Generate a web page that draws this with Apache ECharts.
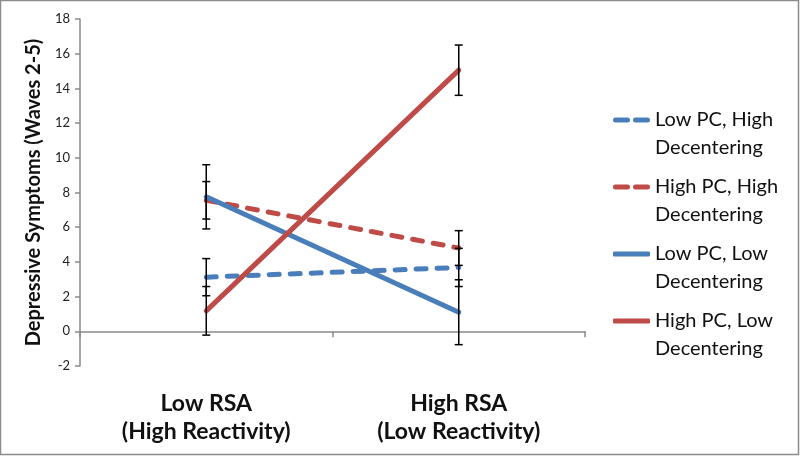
<!DOCTYPE html>
<html>
<head>
<meta charset="utf-8">
<script src="https://cdn.jsdelivr.net/npm/echarts@6/dist/echarts.min.js"></script>
<style>
  html, body { margin: 0; padding: 0; background: #fff; }
  #chart { width: 800px; height: 456px; }
</style>
</head>
<body>
<div id="chart"></div>
<script>
// categories on the x axis
const categories = ['Low RSA\n(High Reactivity)', 'High RSA\n(Low Reactivity)']

// y axis range
const yMin = -2
const yMax = 18
const yStep = 2

// series names
const seriesNames = [
  'Low PC, High\nDecentering',
  'High PC, High\nDecentering',
  'Low PC, Low\nDecentering',
  'High PC, Low\nDecentering'
]

// means per category
const lowPcHighDec = [3.12, 3.68]
const highPcHighDec = [7.55, 4.8]
const lowPcLowDec = [7.75, 1.1]
const highPcLowDec = [1.18, 15.05]

// error bar half-widths per category
const lowPcHighDecErr = [1.07, 1.1]
const highPcHighDecErr = [1.08, 1.0]
const lowPcLowDecErr = [1.85, 1.87]
const highPcLowDecErr = [1.4, 1.45]

const blue = '#4a7ebb'
const red = '#be4b48'
const font = 'Lato, "Open Sans", sans-serif'

// legend icons: two dashes or one solid bar
const dashIcon = 'path://M2.5,0h12a2.5,2.5 0 0 1 0,5h-12a2.5,2.5 0 0 1 0,-5z M22.5,0h12a2.5,2.5 0 0 1 0,5h-12a2.5,2.5 0 0 1 0,-5z'
const solidIcon = 'roundRect'

const lineSeries = (name, data, color, dashed) => ({
  name,
  type: 'line',
  data,
  symbol: 'none',
  z: 3,
  lineStyle: {
    color,
    width: 5,
    cap: 'round',
    type: dashed ? [10, 11] : 'solid'
  },
  itemStyle: { color }
})

// error bar rows: [category index, mean, err]
const errRows = []
const pushErr = (vals, errs) => {
  vals.forEach((v, i) => errRows.push([i, v, errs[i]]))
}
pushErr(lowPcHighDec, lowPcHighDecErr)
pushErr(highPcHighDec, highPcHighDecErr)
pushErr(lowPcLowDec, lowPcLowDecErr)
pushErr(highPcLowDec, highPcLowDecErr)

const renderErr = (params, api) => {
  const i = api.value(0)
  const v = api.value(1)
  const e = api.value(2)
  const hi = api.coord([i, v + e])
  const lo = api.coord([i, v - e])
  const half = 4
  const style = { stroke: '#000', lineWidth: 1.5 }
  return {
    type: 'group',
    children: [
      { type: 'line', shape: { x1: hi[0], y1: hi[1], x2: lo[0], y2: lo[1] }, style },
      { type: 'line', shape: { x1: hi[0] - half, y1: hi[1], x2: hi[0] + half, y2: hi[1] }, style },
      { type: 'line', shape: { x1: lo[0] - half, y1: lo[1], x2: lo[0] + half, y2: lo[1] }, style }
    ]
  }
}

const chart = echarts.init(document.getElementById('chart'))

chart.setOption({
  animation: false,
  backgroundColor: '#fff',
  graphic: [
    {
      type: 'rect',
      shape: { x: 0.5, y: 0.5, width: 798, height: 454 },
      style: { fill: 'none', stroke: '#8c8c8c', lineWidth: 1.5 },
      z: 100
    }
  ],
  grid: {
    left: 80,
    right: 215,
    top: 19,
    bottom: 90,
    containLabel: false,
    outerBoundsMode: 'none'
  },
  legend: {
    orient: 'vertical',
    left: 608,
    top: 73,
    itemWidth: 37,
    itemHeight: 5,
    itemGap: -17,
    data: [
      { name: seriesNames[0], icon: dashIcon },
      { name: seriesNames[1], icon: dashIcon },
      { name: seriesNames[2], icon: solidIcon },
      { name: seriesNames[3], icon: solidIcon }
    ],
    formatter: (name) => '\n' + name,
    textStyle: {
      fontFamily: font,
      fontSize: 20,
      lineHeight: 28,
      color: '#111'
    }
  },
  xAxis: {
    type: 'category',
    data: categories,
    axisLine: {
      onZero: true,
      lineStyle: { color: '#8a8a8a', width: 1.5 }
    },
    axisTick: {
      show: true,
      length: 6,
      lineStyle: { color: '#8a8a8a', width: 1.5 }
    },
    axisLabel: {
      margin: 24,
      fontFamily: font,
      fontSize: 23,
      fontWeight: 'bold',
      lineHeight: 28,
      color: '#111'
    },
    splitLine: { show: false }
  },
  yAxis: {
    type: 'value',
    min: yMin,
    max: yMax,
    interval: yStep,
    name: 'Depressive Symptoms (Waves 2-5)',
    nameLocation: 'middle',
    nameGap: 28,
    nameTextStyle: {
      fontFamily: font,
      fontSize: 20,
      fontWeight: 'bold',
      color: '#111'
    },
    axisLine: {
      show: true,
      lineStyle: { color: '#8a8a8a', width: 1.5 }
    },
    axisTick: {
      show: true,
      length: 5,
      lineStyle: { color: '#8a8a8a', width: 1.5 }
    },
    axisLabel: {
      margin: 10,
      fontFamily: font,
      fontSize: 13,
      color: '#222'
    },
    splitLine: { show: false }
  },
  series: [
    lineSeries(seriesNames[0], lowPcHighDec, blue, true),
    lineSeries(seriesNames[1], highPcHighDec, red, true),
    lineSeries(seriesNames[2], lowPcLowDec, blue, false),
    lineSeries(seriesNames[3], highPcLowDec, red, false),
    {
      type: 'custom',
      renderItem: renderErr,
      data: errRows,
      z: 5,
      silent: true
    }
  ]
})
</script>
</body>
</html>
